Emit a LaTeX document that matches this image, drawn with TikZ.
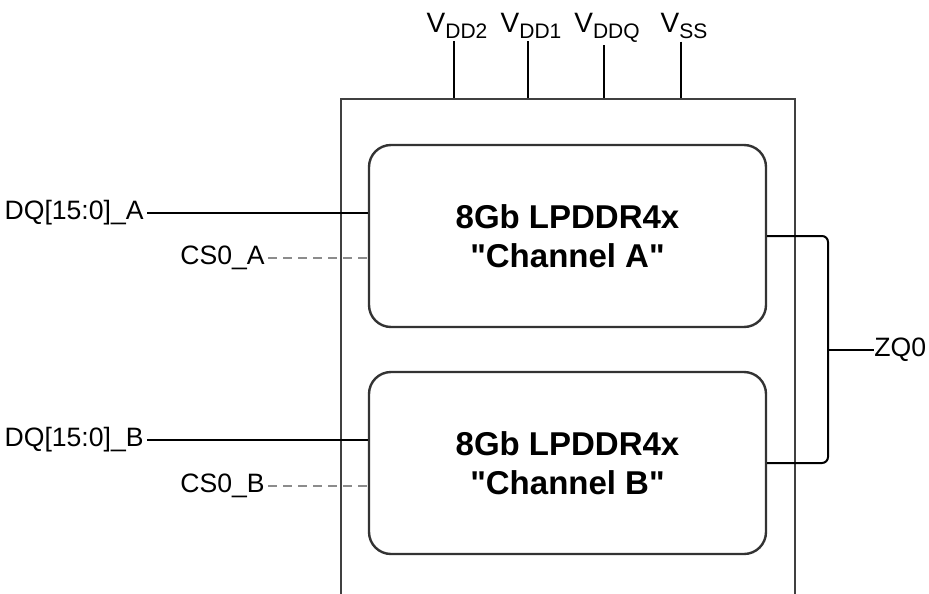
\documentclass[tikz,border=0pt]{standalone}
\usepackage{fontspec}
\setmainfont{Liberation Sans}[Ligatures=TeXOff]
\usetikzlibrary{positioning, calc}

\newcommand{\pinsub}[1]{\raisebox{-0.4ex}{\fontsize{10.5}{12}\selectfont #1}}

\tikzset{
  lbl/.style={font=\fontsize{13.3}{15}\selectfont, inner sep=1.5pt},
  pin/.style={lbl, anchor=base, inner sep=1pt, font=\fontsize{14}{16}\selectfont},
  die/.style={draw=black!80, line width=1.2pt, rounded corners=11pt,
    minimum width=198.5pt, minimum height=91pt, align=center,
    font=\fontsize{16.5}{19.5}\selectfont\bfseries},
  pkg/.style={draw=black!75, line width=1pt, minimum width=227pt, minimum height=270pt},
  sig/.style={line width=1pt},
  ctl/.style={line width=1pt, black!45, dash pattern=on 4.5pt off 3pt}
}

\begin{document}
\begin{tikzpicture}[x=0.5pt, y=-0.5pt]
\clip (0,0) rectangle (929,593);

% package outline and the two dies
\node[pkg] (chip) at (568,369) {};
\node[die] (chA) at (567.5,236) {8Gb LPDDR4x\\"Channel A"};
\node[die] (chB) at (567.5,463) {8Gb LPDDR4x\\"Channel B"};

% supply pins
\node[pin] (vdd2) at (457,33) {V\pinsub{DD2}};
\node[pin] (vdd1) at (531,33) {V\pinsub{DD1}};
\node[pin] (vddq) at (607,33) {V\pinsub{DDQ}};
\node[pin] (vss) at (684,33) {V\pinsub{SS}};
\foreach \p/\x in {vdd2/454, vdd1/528, vddq/604, vss/681}
  \draw[sig] (\x,0 |- \p.south) -- (\x,0 |- chip.north);

% channel A signals
\node[lbl, anchor=east] (dqa) at (147,213) {DQ[15:0]\_A};
\node[lbl, anchor=east] (csa) at (268,258) {CS0\_A};
\draw[sig] (dqa.east) -- (dqa.east -| chA.west);
\draw[ctl] (csa.east) -- (csa.east -| chA.west);

% channel B signals
\node[lbl, anchor=east] (dqb) at (147,440) {DQ[15:0]\_B};
\node[lbl, anchor=east] (csb) at (268,486) {CS0\_B};
\draw[sig] (dqb.east) -- (dqb.east -| chB.west);
\draw[ctl] (csb.east) -- (csb.east -| chB.west);

% ZQ calibration
\coordinate (zq) at (828,350);
\node[lbl, anchor=west, inner sep=0pt] (zq0) at (874,350) {ZQ0};
\draw[sig, rounded corners=3pt] (chA.east) -| (zq) |- (chB.east);
\draw[sig] (zq) -- (zq0.west);
\end{tikzpicture}
\end{document}
